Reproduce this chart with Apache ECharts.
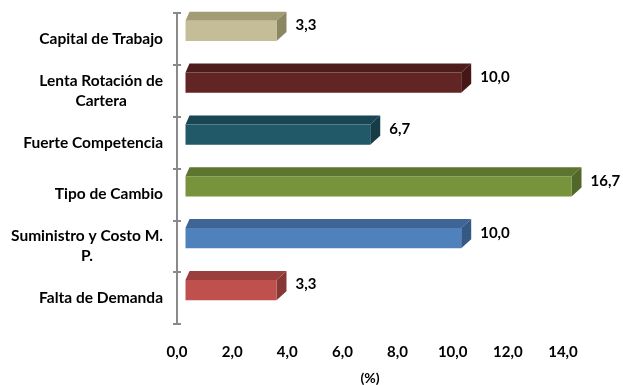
<!DOCTYPE html>
<html>
<head>
<meta charset="utf-8">
<script src="https://cdn.jsdelivr.net/npm/echarts@6/dist/echarts.min.js"></script>
<style>
  html, body { margin: 0; padding: 0; background: #fff; }
  #chart { width: 623px; height: 385px; }
</style>
</head>
<body>
<div id="chart"></div>
<script>
// Categories listed from top to bottom
const categories = [
  'Capital de Trabajo',
  'Lenta Rotación de\nCartera',
  'Fuerte Competencia',
  'Tipo de Cambio',
  'Suministro y Costo M.\nP.',
  'Falta de Demanda'
];
const values = [3.3, 10.0, 6.7, 16.7, 10.0, 3.3];
const xTicks = { min: 0, max: 14, interval: 2 };

// Face colours per bar: front, top, side
const frontColors = ['#C4BD97', '#632523', '#215968', '#77933C', '#4F81BD', '#C0504D'];
const topColors   = ['#A29C74', '#4E1C1B', '#1A4653', '#5E752F', '#3E6596', '#9A3F3D'];
const sideColors  = ['#8C8762', '#451817', '#163C47', '#52672A', '#365885', '#873735'];

const FONT = 'Lato, "Liberation Sans", sans-serif';
const fmt = v => v.toFixed(1).replace('.', ',');

const chart = echarts.init(document.getElementById('chart'), null, { renderer: 'canvas' });

function renderBox(params, api) {
  const i = params.dataIndex;
  const v = api.value(0);
  const cat = api.value(1);
  const shown = Math.min(v, xTicks.max);          // clipped at the axis maximum
  const p0 = api.coord([0, cat]);
  const p1 = api.coord([shown, cat]);
  const band = api.size([0, 1])[1];
  const shiftX = 8.5;      // box sits behind the front plane
  const lift = band * 0.155;
  const h = band * 0.39;
  const dxL = 4, dxR = 10, dy = 9;

  const x0 = p0[0] + shiftX;
  const x1 = p1[0] + shiftX;
  const yc = p0[1] - lift;
  const yT = yc - h / 2;
  const yB = yc + h / 2;

  return {
    type: 'group',
    children: [
      { type: 'polygon', shape: { points: [[x0, yT], [x0 + dxL, yT - dy], [x1 + dxR, yT - dy], [x1, yT]] },
        style: { fill: topColors[i] } },
      { type: 'polygon', shape: { points: [[x1, yT], [x1 + dxR, yT - dy], [x1 + dxR, yB - dy], [x1, yB]] },
        style: { fill: sideColors[i] } },
      { type: 'rect', shape: { x: x0, y: yT, width: x1 - x0, height: h },
        style: { fill: frontColors[i] } },
      { type: 'text', x: x1 + dxR + 9, y: yc - dy / 2 - 1,
        style: { text: fmt(v), fill: '#000', font: 'bold 15px ' + FONT, textVerticalAlign: 'middle', textAlign: 'left' } }
    ]
  };
}

const labelLines = s => s.split('\n').map(l => '{c|' + l + '}').join('\n');

chart.setOption({
  animation: false,
  grid: { left: 177, right: 60, top: 13, bottom: 61, containLabel: false, outerBoundsMode: 'none' },
  xAxis: {
    type: 'value',
    min: xTicks.min, max: xTicks.max, interval: xTicks.interval,
    axisLine: { show: false },
    axisTick: { show: false },
    splitLine: { show: false },
    axisLabel: { formatter: v => fmt(v), color: '#000', fontWeight: 'bold', fontSize: 15, fontFamily: FONT, margin: 21 },
    name: '(%)',
    nameLocation: 'middle',
    nameGap: 47,
    nameTextStyle: { color: '#000', fontWeight: 'bold', fontSize: 14, fontFamily: FONT }
  },
  yAxis: [
    {
      type: 'category',
      data: categories,
      inverse: true,
      position: 'left',
      axisLine: { lineStyle: { color: '#8A8A8A', width: 2 } },
      axisTick: { show: true, length: 4, lineStyle: { color: '#8A8A8A', width: 2 } },
      axisLabel: {
        margin: 14, color: '#000', fontWeight: 'bold', fontSize: 15.5, fontFamily: FONT,
        formatter: labelLines,
        rich: { c: { align: 'center', fontWeight: 'bold', fontSize: 15.5, fontFamily: FONT, color: '#000', lineHeight: 20 } }
      }
    },
    {
      type: 'category',
      data: categories,
      inverse: true,
      position: 'left',
      axisLine: { show: false },
      axisTick: { show: true, inside: true, length: 4, lineStyle: { color: '#8A8A8A', width: 2 } },
      axisLabel: { show: false }
    }
  ],
  series: [{
    type: 'custom',
    yAxisIndex: 0,
    renderItem: renderBox,
    encode: { x: 0, y: 1 },
    data: values.map((v, i) => [v, i])
  }]
});
</script>
</body>
</html>
